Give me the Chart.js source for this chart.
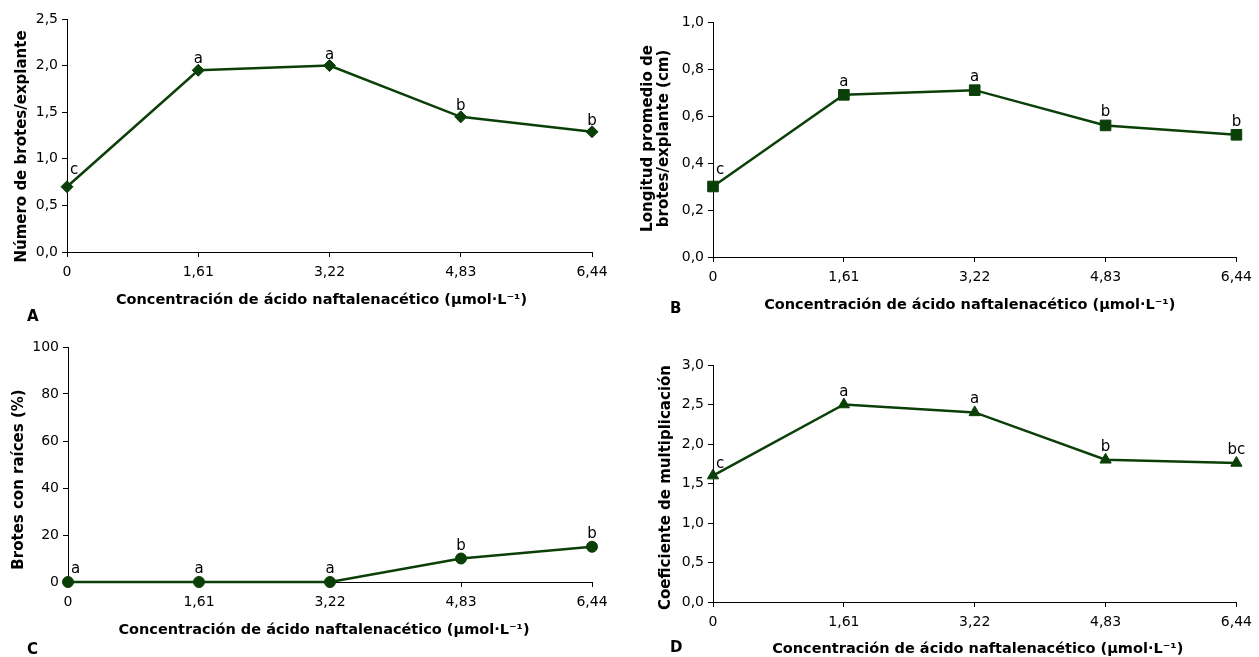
<!DOCTYPE html>
<html>
<head>
<meta charset="utf-8">
<script src="https://cdn.jsdelivr.net/npm/chart.js@4.4.1/dist/chart.umd.min.js"></script>
<style>
  body { margin: 0; width: 1259px; height: 657px; background: #fff; position: relative; overflow: hidden; }
  canvas { position: absolute; }
  .tag { position: absolute; font: bold 15px "DejaVu Sans", sans-serif; line-height: 18px; color: #000; }
</style>
</head>
<body>
<canvas id="chartA" width="620" height="330" style="left:0;top:0"></canvas>
<canvas id="chartB" width="629" height="330" style="left:630px;top:0"></canvas>
<canvas id="chartC" width="620" height="327" style="left:0;top:330px"></canvas>
<canvas id="chartD" width="629" height="327" style="left:630px;top:330px"></canvas>
<div class="tag" style="left:27px;top:307px">A</div>
<div class="tag" style="left:670px;top:299px">B</div>
<div class="tag" style="left:27px;top:640px">C</div>
<div class="tag" style="left:670px;top:638px">D</div>
<script>
// data
const concentraciones = ['0', '1,61', '3,22', '4,83', '6,44'];

const brotesPorExplante = [0.70, 1.95, 2.00, 1.45, 1.29];
const letrasA = ['c', 'a', 'a', 'b', 'b'];

const longitudBrotes = [0.30, 0.69, 0.71, 0.56, 0.52];
const letrasB = ['c', 'a', 'a', 'b', 'b'];

const brotesConRaices = [0, 0, 0, 10, 15];
const letrasC = ['a', 'a', 'a', 'b', 'b'];

const coefMultiplicacion = [1.60, 2.50, 2.40, 1.80, 1.76];
const letrasD = ['c', 'a', 'a', 'b', 'bc'];

const xTitle = 'Concentración de ácido naftalenacético (μmol·L⁻¹)';
const green = '#0b3f08';
const FONT = '"DejaVu Sans", sans-serif';

// letters above each point
const letterPlugin = {
    id: 'letters',
    afterDatasetsDraw(chart, args, opts) {
        const meta = chart.getDatasetMeta(0);
        const ctx = chart.ctx;
        ctx.save();
        ctx.font = '15px ' + FONT;
        ctx.fillStyle = '#000';
        ctx.textBaseline = 'alphabetic';
        meta.data.forEach((pt, i) => {
            if (i === 0) {
                ctx.textAlign = 'left';
                ctx.fillText(opts.letters[i], pt.x + 3, pt.y - opts.firstGap);
            } else {
                ctx.textAlign = 'center';
                ctx.fillText(opts.letters[i], pt.x, pt.y - opts.gap);
            }
        });
        ctx.restore();
    }
};

// axis titles, drawn by hand so they can sit a bit off-centre like the original
const axisTitlePlugin = {
    id: 'axisTitles',
    afterDraw(chart, args, opts) {
        const a = chart.chartArea;
        const ctx = chart.ctx;
        ctx.save();
        ctx.fillStyle = '#000';
        ctx.textAlign = 'center';
        ctx.textBaseline = 'middle';

        ctx.font = 'bold 14.5px ' + FONT;
        ctx.fillText(xTitle, (a.left + a.right) / 2 + opts.xShift, a.bottom + opts.xGap);

        const lines = Array.isArray(opts.yText) ? opts.yText : [opts.yText];
        ctx.font = 'bold 15px ' + FONT;
        ctx.translate(opts.yX, (a.top + a.bottom) / 2 + opts.yShift);
        ctx.rotate(-Math.PI / 2);
        lines.forEach((line, i) => {
            ctx.fillText(line, 0, (i - (lines.length - 1) / 2) * 16.5);
        });
        ctx.restore();
    }
};

function comma(v, dec) {
    return v.toFixed(dec).replace('.', ',');
}

function makePanel(id, values, letters, cfg) {
    const ctx = document.getElementById(id);
    if (!ctx) return;
    return new Chart(ctx.getContext('2d'), {
        type: 'line',
        data: {
            labels: concentraciones,
            datasets: [{
                data: values,
                borderColor: green,
                backgroundColor: green,
                borderWidth: 2.5,
                pointStyle: cfg.marker,
                pointRadius: cfg.radius,
                pointBorderWidth: 1,
                tension: 0,
                clip: false
            }]
        },
        options: {
            responsive: false,
            animation: false,
            devicePixelRatio: 1,
            layout: { padding: cfg.padding },
            plugins: {
                legend: { display: false },
                tooltip: { enabled: false },
                letters: { letters: letters, gap: cfg.gap, firstGap: cfg.firstGap },
                axisTitles: {
                    yText: cfg.yTitle, yX: cfg.yX, yShift: cfg.yShift,
                    xShift: cfg.xShift, xGap: cfg.xGap
                }
            },
            scales: {
                x: {
                    offset: false,
                    grid: { display: true, drawOnChartArea: false, drawTicks: true, tickLength: 5, color: '#000' },
                    border: { color: '#000', width: 1 },
                    ticks: { color: '#000', font: { family: FONT, size: 14 }, padding: 7, maxRotation: 0, autoSkip: false },
                    afterFit: s => { s.height = cfg.xHeight; }
                },
                y: {
                    min: cfg.yMin,
                    max: cfg.yMax,
                    grid: { display: true, drawOnChartArea: false, drawTicks: true, tickLength: 5, color: '#000' },
                    border: { color: '#000', width: 1 },
                    ticks: {
                        stepSize: cfg.step,
                        color: '#000',
                        padding: 4,
                        font: { family: FONT, size: 14 },
                        callback: v => comma(v, cfg.dec)
                    },
                    afterFit: s => { s.width = cfg.yWidth; }
                }
            }
        },
        plugins: [letterPlugin, axisTitlePlugin]
    });
}

makePanel('chartA', brotesPorExplante, letrasA, {
    marker: 'rectRot', radius: 6, gap: 7, firstGap: 13,
    yMin: 0, yMax: 2.5, step: 0.5, dec: 1,
    yTitle: 'Número de brotes/explante', yX: 22, yShift: 11,
    xShift: -8, xGap: 48,
    padding: { left: 13, top: 19, right: 28, bottom: 22 },
    yWidth: 54, xHeight: 56
});

makePanel('chartB', longitudBrotes, letrasB, {
    marker: 'rect', radius: 7.5, gap: 9, firstGap: 13,
    yMin: 0, yMax: 1.0, step: 0.2, dec: 1,
    yTitle: ['Longitud promedio de', 'brotes/explante (cm)'], yX: 26, yShift: -1,
    xShift: -5, xGap: 48,
    padding: { left: 9, top: 22, right: 18, bottom: 17 },
    yWidth: 74, xHeight: 56
});

makePanel('chartC', brotesConRaices, letrasC, {
    marker: 'circle', radius: 5.5, gap: 9, firstGap: 9,
    yMin: 0, yMax: 100, step: 20, dec: 0,
    yTitle: 'Brotes con raíces (%)', yX: 19, yShift: 15,
    xShift: -6, xGap: 48,
    padding: { left: 10, top: 17, right: 28, bottom: 19 },
    yWidth: 58, xHeight: 56
});

makePanel('chartD', coefMultiplicacion, letrasD, {
    marker: 'triangle', radius: 6.5, gap: 9, firstGap: 8,
    yMin: 0, yMax: 3.0, step: 0.5, dec: 1,
    yTitle: 'Coeficiente de multiplicación', yX: 36, yShift: 4,
    xShift: 3, xGap: 47,
    padding: { left: 27, top: 35, right: 18, bottom: 0 },
    yWidth: 56, xHeight: 55
});
</script>
</body>
</html>
